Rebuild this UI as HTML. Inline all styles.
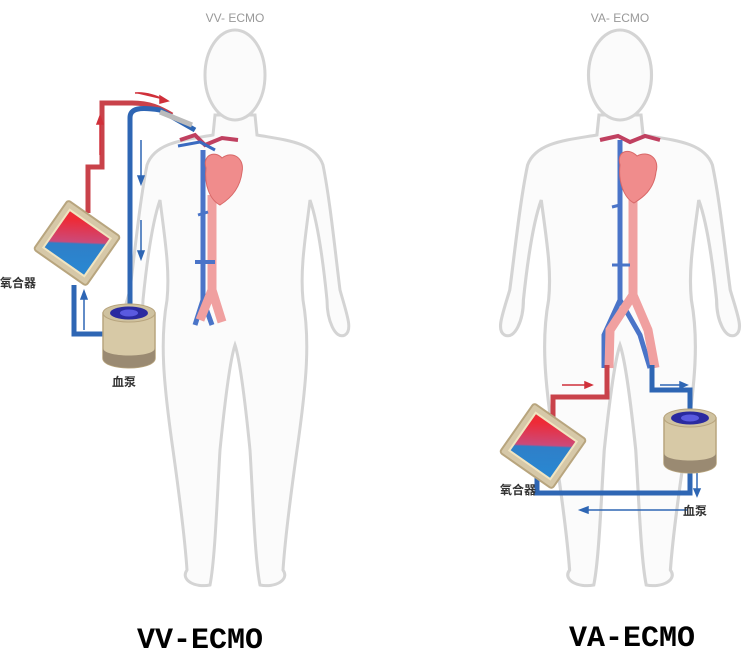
<!DOCTYPE html>
<html><head><meta charset="utf-8"><style>
html,body{margin:0;padding:0;background:#fff;}
svg{display:block}
</style></head><body>
<svg width="750" height="658" viewBox="0 0 750 658" xmlns="http://www.w3.org/2000/svg">
<defs>
<g id="body">
<path d="M -20 115 L -22 135 C -50 140 -80 142 -88 165 C -95 200 -100 250 -105 290 C -112 315 -118 330 -110 335 C -100 340 -92 320 -92 300 C -88 260 -82 220 -75 200 C -70 240 -65 270 -68 300 C -75 340 -72 380 -62 450 C -55 500 -50 540 -48 570 C -55 580 -40 588 -25 585 C -20 560 -18 500 -15 450 C -10 400 -5 360 0 345 C 5 360 10 400 15 450 C 18 500 20 560 25 585 C 40 588 55 580 48 570 C 50 540 55 500 62 450 C 72 380 75 340 68 300 C 65 270 70 240 75 200 C 82 220 88 260 92 300 C 92 320 100 340 110 335 C 118 330 112 315 105 290 C 100 250 95 200 88 165 C 80 142 50 140 22 135 L 20 115 Z" fill="#fbfbfb" stroke="#d4d4d4" stroke-width="3"/>
<ellipse cx="0" cy="75" rx="30" ry="45" fill="#fbfbfb" stroke="#d4d4d4" stroke-width="3"/>
</g>
<linearGradient id="oxg" x1="0" y1="0" x2="0" y2="1" gradientTransform="rotate(-35 0.5 0.5)">
<stop offset="0" stop-color="#ee2a36"/><stop offset="0.48" stop-color="#cc4a7a"/><stop offset="0.52" stop-color="#2f7fc8"/><stop offset="1" stop-color="#2a86d0"/>
</linearGradient>
<g id="oxy">
<rect x="-32" y="-30" width="64" height="60" rx="3" fill="#d6c8a8" stroke="#b8a57e" stroke-width="2"/>
<rect x="-25" y="-23" width="50" height="46" fill="url(#oxg)" stroke="#f0e4c0" stroke-width="2"/>
</g>
<g id="pump">
<path d="M -26 0 L -26 45 C -26 58 26 58 26 45 L 26 0 Z" fill="#d7c9a6" stroke="#b8a57e" stroke-width="1.5"/>
<path d="M -26 35 L -26 45 C -26 58 26 58 26 45 L 26 35 C 26 45 -26 45 -26 35Z" fill="#9a8a72"/>
<ellipse cx="0" cy="0" rx="26" ry="9" fill="#cfc2a0" stroke="#b8a57e"/>
<ellipse cx="0" cy="0" rx="19" ry="6.5" fill="#2a2aa0"/>
<ellipse cx="0" cy="0" rx="9" ry="3.5" fill="#5a5ae0"/>
</g>
</defs>

<text x="235" y="22" font-family="Liberation Sans, sans-serif" font-size="12" fill="#999" text-anchor="middle">VV- ECMO</text>
<text x="620" y="22" font-family="Liberation Sans, sans-serif" font-size="12" fill="#999" text-anchor="middle">VA- ECMO</text>

<use href="#body" transform="translate(235,0)"/>
<use href="#body" transform="translate(620,0) scale(1.05,1)"/>

<!-- VV vessels -->
<g>
<path d="M 180 140 L 195 135 L 205 145 L 222 138 L 238 140" stroke="#c04060" stroke-width="4" fill="none"/>
<path d="M 178 146 L 200 142 L 215 150" stroke="#3a6ac0" stroke-width="3" fill="none"/>
<path d="M 203 150 L 203 300 M 203 300 L 195 325 M 203 300 L 212 325" stroke="#4a74c8" stroke-width="5" fill="none"/>
<path d="M 212 195 L 212 290 L 200 320 M 212 290 L 222 322" stroke="#f0a0a0" stroke-width="9" fill="none"/>
<path d="M 206 168 C 202 155 215 150 222 158 C 232 150 245 158 242 172 C 240 190 228 200 220 205 C 210 200 204 185 206 168Z" fill="#f08c8c" stroke="#d86868"/>
<path d="M 195 262 L 215 262" stroke="#4a74c8" stroke-width="4"/>
<path d="M 198 215 L 208 212" stroke="#4a74c8" stroke-width="3"/>
</g>

<!-- VV circuit -->
<path d="M 88 213 L 88 167 L 102 167 L 102 103 L 132 103 C 150 103 160 108 172 115" stroke="#c9424a" stroke-width="5" fill="none"/>
<path d="M 130 308 L 130 118 C 130 108 140 107 160 110 L 195 130" stroke="#2e66b4" stroke-width="5" fill="none"/>
<path d="M 160 112 L 192 125" stroke="#bbb" stroke-width="5"/>
<path d="M 74 285 L 74 334 L 106 334" stroke="#2e66b4" stroke-width="5" fill="none"/>
<g stroke="#d0303a" stroke-width="1.5" fill="#d0303a">
<path d="M 100 155 L 100 120"/><path d="M 97 124 L 100 116 L 103 124Z"/>
<path d="M 135 93 C 145 92 155 95 165 100"/><path d="M 160 96 L 168 101 L 160 103Z"/>
</g>
<g stroke="#2e66b4" stroke-width="1.5" fill="#2e66b4">
<path d="M 141 140 L 141 180"/><path d="M 138 176 L 141 184 L 144 176Z"/>
<path d="M 141 220 L 141 255"/><path d="M 138 251 L 141 259 L 144 251Z"/>
<path d="M 84 330 L 84 295"/><path d="M 81 299 L 84 291 L 87 299Z"/>
</g>
<use href="#oxy" transform="translate(77,243) rotate(35)"/>
<use href="#pump" transform="translate(129,313)"/>
<text x="0" y="287" font-family="'Noto Sans CJK SC', sans-serif" font-size="12" font-weight="bold" fill="#333">氧合器</text>
<text x="112" y="386" font-family="'Noto Sans CJK SC', sans-serif" font-size="12" font-weight="bold" fill="#333">血泵</text>

<!-- VA vessels -->
<g>
<path d="M 600 140 L 618 136 L 630 142 L 645 136 L 660 140" stroke="#c04060" stroke-width="4" fill="none"/>
<path d="M 620 140 L 620 300 L 604 335 L 604 368 M 620 300 L 640 335 L 650 368" stroke="#4a74c8" stroke-width="5" fill="none"/>
<path d="M 633 190 L 633 295 L 610 330 L 609 368 M 633 295 L 648 330 L 655 368" stroke="#f0a0a0" stroke-width="9" fill="none"/>
<path d="M 620 165 C 616 150 630 148 637 156 C 648 150 660 158 656 172 C 654 190 642 198 634 203 C 624 198 618 182 620 165Z" fill="#f08c8c" stroke="#d86868"/>
<path d="M 612 265 L 630 265 M 612 207 L 620 205" stroke="#4a74c8" stroke-width="3"/>
</g>

<!-- VA circuit -->
<path d="M 553 420 L 553 397 L 607 397 L 607 365" stroke="#c9424a" stroke-width="5" fill="none"/>
<path d="M 652 365 L 652 390 L 690 390 L 690 410" stroke="#2e66b4" stroke-width="5" fill="none"/>
<path d="M 690 465 L 690 493 L 537 493 L 537 478" stroke="#2e66b4" stroke-width="5" fill="none"/>
<g stroke="#d0303a" stroke-width="1.5" fill="#d0303a">
<path d="M 562 385 L 588 385"/><path d="M 585 382 L 592 385 L 585 388Z"/>
</g>
<g stroke="#2e66b4" stroke-width="1.5" fill="#2e66b4">
<path d="M 660 385 L 682 385"/><path d="M 680 382 L 687 385 L 680 388Z"/>
<path d="M 697 470 L 697 492"/><path d="M 694 489 L 697 496 L 700 489Z"/>
<path d="M 688 510 L 585 510"/><path d="M 588 507 L 580 510 L 588 513Z"/>
</g>
<use href="#oxy" transform="translate(543,446) rotate(35)"/>
<use href="#pump" transform="translate(690,418)"/>
<text x="500" y="494" font-family="'Noto Sans CJK SC', sans-serif" font-size="12" font-weight="bold" fill="#333">氧合器</text>
<text x="683" y="515" font-family="'Noto Sans CJK SC', sans-serif" font-size="12" font-weight="bold" fill="#333">血泵</text>

<text x="200" y="648" font-family="'Liberation Mono', monospace" font-size="30" font-weight="bold" fill="#000" text-anchor="middle">VV-ECMO</text>
<text x="632" y="646" font-family="'Liberation Mono', monospace" font-size="30" font-weight="bold" fill="#000" text-anchor="middle">VA-ECMO</text>
</svg>
</body></html>
